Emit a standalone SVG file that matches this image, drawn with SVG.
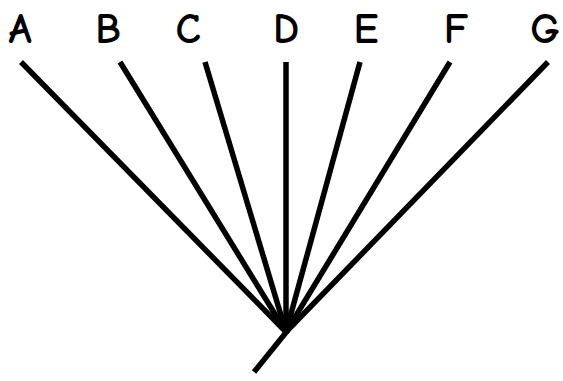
<svg xmlns="http://www.w3.org/2000/svg" width="563" height="381" viewBox="0 0 563 381">
<style>
.lbl{font-family:"Comic Sans MS","Comic Neue","DejaVu Sans",sans-serif;font-size:42px;font-weight:bold;fill:#000;text-anchor:middle}
.edge{stroke:#000;stroke-width:5.5;stroke-linecap:butt;fill:none}
</style>
<rect width="563" height="381" fill="#fff"/>
<g id="connectors">
<line class="edge" x1="21" y1="62" x2="286" y2="332"/>
<line class="edge" x1="120" y1="62" x2="286" y2="332"/>
<line class="edge" x1="205" y1="62" x2="286" y2="332"/>
<line class="edge" x1="286" y1="62" x2="286" y2="332"/>
<line class="edge" x1="360" y1="62" x2="286" y2="332"/>
<line class="edge" x1="450" y1="62" x2="286" y2="332"/>
<line class="edge" x1="548" y1="62" x2="286" y2="332"/>
<line class="edge" x1="288" y1="330" x2="254" y2="372"/>
</g>
<g id="A"><text class="lbl" x="20" y="43">A</text></g>
<g id="B"><text class="lbl" x="108" y="43">B</text></g>
<g id="C"><text class="lbl" x="188" y="43">C</text></g>
<g id="D"><text class="lbl" x="286" y="43">D</text></g>
<g id="E"><text class="lbl" x="366" y="43">E</text></g>
<g id="F"><text class="lbl" x="456" y="43">F</text></g>
<g id="G"><text class="lbl" x="545" y="43">G</text></g>
</svg>
